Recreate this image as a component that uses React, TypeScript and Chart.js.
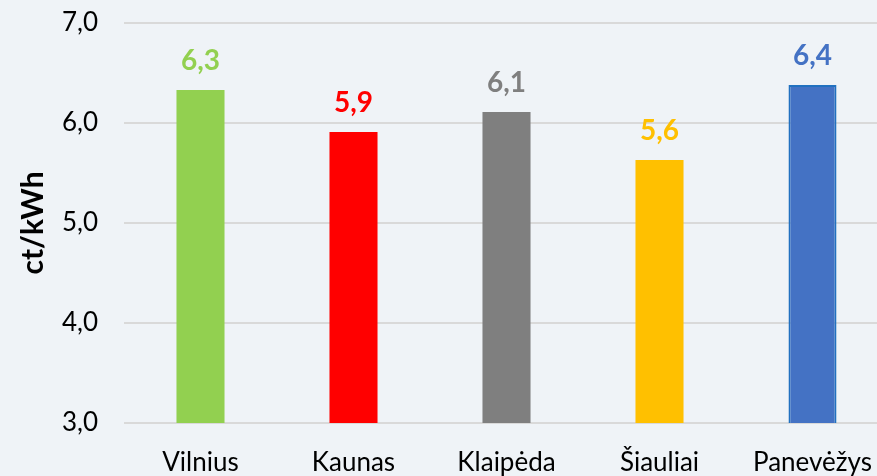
import React, { useEffect, useRef } from "react";
import { Chart, registerables } from "chart.js";

Chart.register(...registerables);

const categories = ["Vilnius", "Kaunas", "Klaipėda", "Šiauliai", "Panevėžys"];
const values = [6.33, 5.91, 6.11, 5.63, 6.38];
const barColors = ["#92D050", "#FF0000", "#7F7F7F", "#FFC000", "#4472C4"];
const barBorderColors = ["#92D050", "#FF0000", "#7F7F7F", "#FFC000", "#2171C0"];
const barBorderWidths = [0, 0, 0, 0, 2];
const labelColors = ["#92D050", "#FF0000", "#7F7F7F", "#FFC000", "#4472C4"];
const yMin = 3;
const yMax = 7;
const yStep = 1;
const yTitle = "ct/kWh";

const fmt = (v: number) => v.toFixed(1).replace(".", ",");

const FONT = "Lato";

const labelPlugin = {
  id: "barLabels",
  afterDatasetsDraw(chart: any) {
    const ctx = chart.ctx;
    const meta = chart.getDatasetMeta(0);
    ctx.save();
    ctx.font = `bold 28px ${FONT}`;
    ctx.textAlign = "center";
    ctx.textBaseline = "alphabetic";
    meta.data.forEach((bar: any, i: number) => {
      ctx.fillStyle = labelColors[i];
      ctx.fillText(fmt(values[i]), bar.x, bar.y - 20);
    });
    ctx.restore();
  },
};

export default function App() {
  const ref = useRef<HTMLCanvasElement>(null);

  useEffect(() => {
    if (!ref.current) return;
    const chart = new Chart(ref.current, {
      type: "bar",
      data: {
        labels: categories,
        datasets: [
          {
            data: values,
            backgroundColor: barColors,
            borderColor: barBorderColors,
            borderWidth: barBorderWidths,
            barPercentage: 0.314,
            categoryPercentage: 1,
          },
        ],
      },
      options: {
        animation: false,
        responsive: false,
        devicePixelRatio: 1,
        layout: { padding: { top: 23, right: 0, bottom: 0, left: 0 } },
        plugins: {
          legend: { display: false },
          tooltip: { enabled: false },
        },
        scales: {
          x: {
            grid: { display: false, drawTicks: false },
            border: { display: false },
            ticks: {
              color: "#000000",
              padding: 24,
              font: { family: FONT, size: 26 },
            },
            afterFit: (s: any) => {
              s.height = 53;
              s.paddingLeft = 0;
              s.paddingRight = 0;
            },
          },
          y: {
            min: yMin,
            max: yMax,
            grid: { color: "#D9D9D9", lineWidth: 2, drawTicks: false },
            border: { display: false },
            ticks: {
              stepSize: yStep,
              color: "#000000",
              padding: 26,
              font: { family: FONT, size: 26 },
              callback: (v: any) => fmt(Number(v)),
            },
            title: {
              display: true,
              text: yTitle,
              color: "#000000",
              font: { family: FONT, size: 30, weight: "bold" },
              padding: { top: 15, bottom: 0 },
            },
            afterFit: (s: any) => {
              s.width = 124;
              s.paddingTop = 0;
              s.paddingBottom = 0;
            },
          },
        },
      },
      plugins: [labelPlugin],
    });
    const fonts: any = (document as any).fonts;
    if (fonts && fonts.load) {
      Promise.all([
        fonts.load(`26px ${FONT}`),
        fonts.load(`bold 28px ${FONT}`),
        fonts.load(`bold 30px ${FONT}`),
      ]).then(() => chart.update());
    }
    return () => chart.destroy();
  }, []);

  return (
    <div
      style={{
        position: "fixed",
        left: 0,
        top: 0,
        width: 877,
        height: 476,
        overflow: "hidden",
        background: "#EFF3F7",
      }}
    >
      <canvas ref={ref} width={889} height={476} style={{ display: "block" }} />
    </div>
  );
}
